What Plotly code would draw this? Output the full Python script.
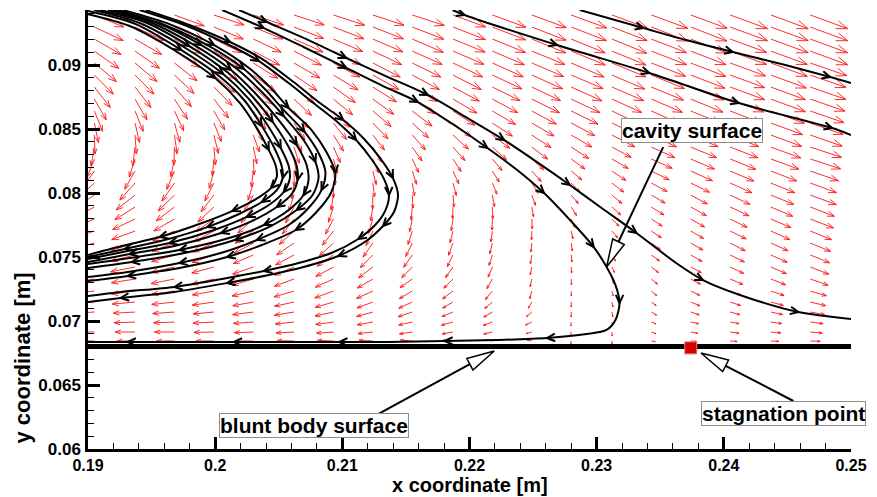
import math
import plotly.graph_objects as go

# ---------------- data (lengths in mm) ----------------
grid_x_mm = [190.5, 193.7, 196.8, 199.9, 203.0, 206.2, 209.3, 212.4, 215.5, 218.7,
             221.8, 224.9, 228.0, 231.2, 234.3, 237.4, 240.5, 243.7, 246.8]
grid_y_mm = [93.91, 92.97, 92.03, 91.09, 90.16, 89.22, 88.28, 87.34, 86.41, 85.47,
             84.53, 83.59, 82.66, 81.72, 80.78, 79.84, 78.91, 77.97, 77.03, 76.09,
             75.16, 74.22, 73.28, 72.34, 71.48, 70.70, 69.92, 69.14, 68.44]

# velocity direction (deg, 0 = +x, counter-clockwise) per grid node, rows top -> bottom
vec_angle_deg = [
    [-22, -20, -20, -18, -18, -18, -18, -18, -18, -20, -20, -20, -20, -20, -20, -20, -20, -20, -20],
    [-25, -25, -23, -22, -22, -21, -21, -21, -21, -21, -21, -21, -21, -21, -21, -21, -20, -20, -20],
    [-30, -30, -28, -26, -25, -24, -23, -23, -23, -22, -22, -22, -22, -22, -21, -21, -20, -20, -20],
    [-35, -35, -33, -30, -28, -27, -26, -25, -24, -23, -23, -22, -22, -22, -21, -21, -20, -20, -20],
    [-40, -40, -38, -35, -32, -30, -28, -27, -26, -25, -24, -23, -23, -22, -21, -21, -20, -20, -19],
    [-45, -45, -43, -40, -37, -34, -31, -29, -28, -27, -25, -24, -23, -23, -22, -21, -20, -20, -19],
    [-52, -52, -49, -45, -42, -38, -35, -32, -30, -28, -26, -25, -24, -23, -22, -21, -20, -20, -19],
    [-60, -60, -57, -52, -48, -43, -39, -36, -33, -30, -28, -26, -25, -24, -23, -22, -21, -20, -19],
    [-68, -68, -65, -60, -55, -50, -45, -40, -37, -33, -30, -28, -26, -25, -24, -22, -21, -20, -19],
    [-78, -77, -74, -68, -62, -57, -51, -46, -42, -37, -33, -30, -28, -26, -25, -23, -22, -20, -19],
    [-88, -86, -82, -76, -70, -64, -58, -52, -48, -42, -37, -33, -30, -27, -25, -23, -22, -20, -19],
    [-100, -97, -92, -85, -78, -72, -66, -60, -55, -48, -42, -37, -33, -28, -24, -22, -21, -20, -18],
    [-112, -108, -102, -95, -87, -80, -74, -68, -65, -57, -50, -42, -36, -30, -24, -23, -22, -20, -18],
    [-125, -120, -113, -105, -97, -89, -82, -76, -72, -65, -58, -48, -40, -34, -26, -24, -23, -21, -19],
    [-138, -132, -125, -117, -107, -98, -90, -83, -80, -75, -68, -58, -45, -37, -28, -26, -24, -22, -20],
    [-147, -142, -136, -128, -118, -108, -99, -91, -87, -85, -80, -70, -50, -40, -30, -28, -25, -22, -20],
    [-152, -148, -143, -137, -128, -118, -108, -99, -95, -92, -88, -80, -58, -42, -32, -29, -25, -23, -21],
    [-158, -155, -150, -145, -138, -128, -118, -107, -102, -98, -92, -87, -68, -45, -33, -30, -26, -23, -21],
    [-162, -160, -156, -152, -146, -138, -128, -115, -108, -104, -98, -92, -78, -50, -34, -30, -26, -24, -22],
    [-165, -163, -160, -157, -152, -146, -138, -125, -116, -110, -104, -96, -82, -55, -35, -30, -27, -24, -22],
    [-168, -166, -164, -161, -157, -152, -146, -135, -125, -116, -108, -99, -84, -60, -36, -30, -26, -24, -22],
    [-170, -169, -167, -165, -161, -157, -152, -143, -135, -125, -113, -101, -86, -65, -38, -28, -25, -23, -21],
    [-172, -171, -169, -167, -164, -160, -156, -150, -145, -135, -120, -102, -88, -70, -40, -27, -23, -21, -19],
    [-174, -173, -172, -170, -167, -164, -160, -156, -150, -143, -130, -105, -89, -75, -40, -25, -20, -18, -16],
    [-175, -175, -174, -172, -170, -168, -164, -160, -156, -150, -140, -120, -90, -78, -35, -22, -18, -15, -13],
    [-177, -177, -176, -175, -173, -171, -168, -165, -162, -158, -150, -140, -92, -80, -30, -18, -15, -12, -10],
    [-178, -178, -178, -177, -176, -174, -172, -170, -168, -165, -160, -155, -95, -82, -22, -12, -10, -8, -7],
    [-180, -180, -180, -179, -178, -177, -176, -174, -172, -170, -167, -165, -100, -85, -20, -10, -8, -5, -5],
    [180, 180, 180, 180, 180, 179, 178, 177, 176, 175, 172, 170, -100, -85, -10, -5, -4, -3, -2],
]

# relative speed per grid node (arbitrary units), rows top -> bottom
vec_speed = [
    [32, 32, 32, 32, 32, 32, 33, 33, 34, 35, 36, 37, 38, 38, 39, 39, 40, 40, 40],
    [32, 32, 32, 32, 32, 32, 33, 33, 34, 35, 36, 37, 38, 38, 39, 39, 40, 40, 40],
    [31, 31, 31, 31, 31, 32, 32, 33, 34, 35, 36, 37, 37, 38, 38, 39, 39, 40, 40],
    [30, 30, 30, 30, 30, 31, 31, 32, 33, 34, 35, 36, 37, 37, 38, 38, 39, 39, 40],
    [29, 29, 29, 29, 29, 30, 30, 31, 32, 33, 34, 35, 36, 37, 37, 38, 38, 39, 39],
    [27, 27, 27, 27, 28, 28, 29, 30, 31, 32, 33, 34, 35, 36, 36, 37, 37, 38, 38],
    [26, 26, 26, 26, 26, 26, 27, 28, 29, 30, 31, 32, 34, 35, 35, 36, 37, 37, 38],
    [24, 24, 24, 24, 24, 24, 25, 26, 27, 28, 29, 31, 32, 33, 34, 35, 36, 37, 37],
    [22, 22, 22, 22, 22, 22, 23, 24, 25, 26, 27, 28, 30, 31, 32, 33, 35, 36, 36],
    [20, 20, 20, 20, 20, 20, 21, 22, 22, 23, 24, 26, 27, 29, 30, 31, 33, 34, 35],
    [19, 19, 19, 19, 18, 18, 19, 19, 20, 21, 22, 23, 24, 26, 28, 30, 31, 33, 34],
    [19, 19, 18, 18, 17, 17, 17, 17, 17, 18, 19, 20, 21, 22, 26, 28, 30, 32, 33],
    [20, 19, 18, 17, 16, 15, 15, 15, 15, 15, 15, 16, 17, 19, 23, 26, 28, 30, 32],
    [22, 21, 20, 18, 16, 15, 14, 14, 14, 14, 13, 14, 14, 17, 20, 24, 26, 28, 30],
    [24, 23, 22, 20, 18, 16, 15, 14, 13, 13, 12, 12, 12, 15, 18, 21, 24, 26, 28],
    [25, 24, 23, 21, 19, 17, 15, 14, 13, 12, 12, 11, 11, 13, 16, 19, 22, 25, 28],
    [25, 24, 23, 22, 20, 18, 16, 14, 13, 12, 12, 10, 10, 12, 15, 18, 21, 24, 26],
    [25, 25, 24, 22, 21, 19, 17, 15, 13, 12, 11, 10, 9, 10, 13, 16, 19, 22, 25],
    [25, 25, 24, 23, 22, 20, 18, 16, 14, 12, 11, 9, 8, 9, 12, 15, 18, 21, 23],
    [25, 25, 24, 23, 22, 21, 19, 17, 15, 13, 11, 9, 8, 8, 11, 14, 17, 19, 22],
    [25, 25, 24, 23, 22, 21, 20, 18, 15, 13, 11, 9, 7, 7, 10, 13, 16, 18, 21],
    [25, 25, 24, 23, 22, 21, 20, 18, 15, 13, 11, 8, 6, 6, 9, 12, 15, 17, 20],
    [24, 24, 24, 23, 22, 21, 20, 18, 15, 13, 11, 8, 6, 5, 8, 11, 14, 16, 19],
    [24, 24, 23, 22, 22, 21, 20, 18, 15, 13, 11, 8, 5, 5, 7, 10, 12, 14, 17],
    [23, 23, 23, 22, 21, 20, 19, 17, 15, 12, 10, 7, 5, 5, 6, 10, 11, 13, 16],
    [22, 22, 22, 21, 21, 20, 19, 17, 15, 12, 10, 7, 5, 5, 6, 9, 10, 12, 15],
    [21, 21, 21, 21, 20, 19, 18, 16, 14, 12, 10, 7, 4, 4, 5, 8, 9, 11, 13],
    [20, 20, 20, 20, 19, 18, 17, 15, 13, 11, 9, 6, 4, 4, 5, 7, 9, 10, 12],
    [18, 18, 18, 18, 18, 17, 16, 14, 12, 10, 8, 5, 3, 3, 4, 6, 7, 8, 10],
]

# streamlines (mm) and indices of points carrying a direction arrowhead
A_x = [228.67, 233.67, 237.03, 240.70, 244.84, 248.36, 250.0]
A_y = [94.30, 92.89, 91.95, 91.02, 90.00, 89.06, 88.59]
A_arrows = [1, 3, 5]

B_x = [218.67, 219.61, 226.88, 234.14, 241.17, 248.52, 250.0]
B_y = [94.30, 93.91, 91.56, 89.38, 87.03, 85.08, 84.53]
B_arrows = [1, 2, 3, 4, 5]

D_x = [201.88, 204.06, 207.34, 210.31, 213.59, 216.72, 219.84, 222.73, 225.31, 227.89,
       230.39, 233.13, 236.25, 238.36, 241.72, 245.86, 250.0]
D_y = [94.30, 93.36, 91.95, 90.55, 89.06, 87.66, 85.86, 84.14, 82.42, 80.63,
       78.83, 76.88, 74.53, 73.20, 71.88, 70.70, 70.16]
D_arrows = [1, 3, 5, 7, 9, 11, 13, 15]

C_x = [200.55, 203.83, 206.95, 210.31, 213.20, 215.94, 218.67, 221.41, 223.75, 225.86,
       228.05, 229.77, 230.78, 231.48, 231.80, 231.48, 230.78, 229.22, 226.09, 222.19,
       218.05, 213.59, 209.77, 205.78, 201.48, 197.19, 193.13, 190.0]
C_y = [94.30, 92.89, 91.41, 89.77, 88.36, 87.11, 85.39, 83.52, 81.80, 80.00,
       77.73, 75.78, 74.22, 72.81, 71.41, 70.08, 69.30, 68.98, 68.67, 68.52,
       68.44, 68.36, 68.36, 68.36, 68.36, 68.36, 68.36, 68.36]
C_arrows = [1, 3, 5, 7, 9, 11, 14, 18, 20, 22, 24, 26]

O1_x = [194.53, 197.97, 201.17, 203.83, 206.17, 208.13, 210.08, 211.64, 212.97, 213.98,
        214.38, 214.06, 213.20, 211.88, 209.69, 206.95, 204.22, 200.94, 196.80, 192.58, 190.0]
O1_y = [94.30, 93.13, 91.80, 90.39, 88.67, 87.11, 85.70, 84.30, 82.73, 81.17,
        79.84, 78.52, 77.42, 76.25, 75.08, 74.22, 73.59, 72.97, 72.27, 71.80, 71.48]
O1_arrows = [2, 6, 9, 12, 14, 17, 19]

O2_x = [194.06, 197.58, 200.78, 203.44, 205.78, 207.73, 209.61, 211.09, 212.34, 213.28,
        213.67, 213.36, 212.58, 211.25, 209.14, 206.56, 203.83, 200.94, 196.80, 192.58, 190.0]
O2_y = [94.30, 93.13, 91.72, 90.31, 88.59, 87.03, 85.55, 84.14, 82.58, 81.09,
        79.84, 78.59, 77.50, 76.41, 75.31, 74.53, 73.91, 73.36, 72.66, 72.27, 71.95]
O2_arrows = [3, 7, 10, 13, 16, 18]

S1_x = [192.73, 196.41, 199.92, 202.66, 204.38, 205.78, 207.58, 208.75, 209.45, 209.14,
        207.97, 206.33, 203.67, 200.94, 197.19, 193.13, 190.0]
S1_y = [94.30, 93.20, 91.56, 89.77, 88.20, 86.64, 84.92, 83.20, 81.56, 80.08,
        78.52, 77.11, 75.94, 75.00, 74.14, 73.52, 73.13]
S1_arrows = [2, 5, 8, 11, 13, 15]

S2_x = [192.34, 196.02, 199.53, 202.27, 203.98, 205.39, 207.03, 208.13, 208.67, 208.36,
        207.34, 205.78, 203.28, 200.70, 197.19, 193.13, 190.0]
S2_y = [94.30, 93.13, 91.48, 89.69, 88.05, 86.48, 84.77, 83.13, 81.64, 80.23,
        78.83, 77.50, 76.33, 75.39, 74.53, 73.83, 73.44]
S2_arrows = [3, 6, 9, 12, 14]

B6_x = [191.95, 195.47, 198.91, 201.72, 203.67, 205.39, 206.95, 207.89, 208.13, 207.66,
        206.41, 204.38, 201.56, 197.58, 193.44, 190.0]
B6_y = [94.30, 93.28, 91.56, 89.69, 87.89, 86.02, 84.14, 82.42, 81.17, 79.84,
        78.67, 77.42, 76.33, 75.31, 74.61, 74.14]
B6_arrows = [2, 5, 7, 10, 12, 14]

B1_x = [191.56, 194.84, 198.36, 201.25, 203.28, 205.00, 206.41, 207.19, 207.34, 206.95,
        205.78, 203.83, 201.09, 197.19, 193.28, 190.0]
B1_y = [94.30, 93.36, 91.56, 89.61, 87.66, 85.70, 83.75, 82.19, 81.02, 79.84,
        78.67, 77.50, 76.48, 75.55, 74.92, 74.45]
B1_arrows = [3, 6, 9, 11, 13]

B2_x = [190.94, 194.45, 197.97, 200.94, 202.97, 204.53, 205.78, 206.41, 206.48, 206.02,
        204.84, 203.05, 200.47, 196.80, 193.28, 190.0]
B2_y = [94.30, 93.36, 91.48, 89.45, 87.50, 85.55, 83.59, 82.11, 81.02, 79.92,
        78.91, 77.89, 76.88, 75.86, 75.23, 74.61]
B2_arrows = [2, 5, 8, 10, 12, 14]

B3_x = [190.47, 194.06, 197.66, 200.63, 202.66, 204.06, 205.16, 205.78, 205.86, 205.39,
        204.22, 202.50, 199.92, 196.41, 193.13, 190.0]
B3_y = [94.30, 93.28, 91.33, 89.30, 87.34, 85.39, 83.52, 82.11, 81.09, 80.08,
        79.06, 78.13, 77.11, 76.09, 75.47, 74.84]
B3_arrows = [3, 6, 9, 11, 13]

B4_x = [190.0, 193.75, 197.34, 200.31, 202.34, 203.67, 204.69, 205.23, 205.31, 204.84,
        203.67, 201.88, 199.38, 196.02, 192.89, 190.0]
B4_y = [94.22, 93.20, 91.17, 89.14, 87.19, 85.23, 83.44, 82.11, 81.17, 80.23,
        79.30, 78.36, 77.34, 76.33, 75.63, 75.00]
B4_arrows = [2, 5, 8, 10, 12, 14]

B5_x = [190.0, 193.28, 197.03, 200.00, 201.95, 203.28, 204.22, 204.77, 204.84, 204.38,
        203.20, 201.33, 198.75, 195.63, 192.66, 190.0]
B5_y = [93.98, 93.05, 91.02, 88.98, 87.03, 85.08, 83.36, 82.11, 81.25, 80.39,
        79.53, 78.59, 77.58, 76.56, 75.86, 75.16]
B5_arrows = [3, 6, 9, 11, 13]

# blunt body surface and stagnation point (m)
body_x = [0.19, 0.25]
body_y = [0.068, 0.068]
stag_x = [0.2374]
stag_y = [0.0679]

# labels with leader arrows (m)
label_text = ["cavity surface", "blunt body surface", "stagnation point"]
label_x = [0.2375, 0.20781, 0.24469]
label_y = [0.08492, 0.06180, 0.06281]
leader_x0 = [0.23523, 0.21281, 0.24547]
leader_y0 = [0.08359, 0.06273, 0.06375]
leader_tip_x = [0.23078, 0.22195, 0.23820]
leader_tip_y = [0.07422, 0.06766, 0.06750]

x_ticks = [0.19, 0.20, 0.21, 0.22, 0.23, 0.24, 0.25]
x_tick_labels = ["0.19", "0.2", "0.21", "0.22", "0.23", "0.24", "0.25"]
y_ticks = [0.06, 0.065, 0.07, 0.075, 0.08, 0.085, 0.09]
y_tick_labels = ["0.06", "0.065", "0.07", "0.075", "0.08", "0.085", "0.09"]

# ---------------- drawing ----------------
MM = 1e-3
X_RANGE = [0.19, 0.25]
Y_RANGE = [0.06, 0.0943]
PX = (X_RANGE[1] - X_RANGE[0]) / 769.0     # metres per screen pixel
SPEED_SCALE = PX
FONT = "Liberation Sans, Arial, Helvetica, sans-serif"

fig = go.Figure()

# vector field
vx, vy = [], []
head_half = math.radians(20)
for i, yv in enumerate(grid_y_mm):
    for j, xv in enumerate(grid_x_mm):
        a = math.radians(vec_angle_deg[i][j])
        L = vec_speed[i][j] * SPEED_SCALE
        x0, y0 = xv * MM, yv * MM
        x1, y1 = x0 + L * math.cos(a), y0 + L * math.sin(a)
        h = 0.3 * L
        b1 = (x1 + h * math.cos(a + math.pi + head_half), y1 + h * math.sin(a + math.pi + head_half))
        b2 = (x1 + h * math.cos(a + math.pi - head_half), y1 + h * math.sin(a + math.pi - head_half))
        vx += [x0, x1, b1[0], None, x1, b2[0], None]
        vy += [y0, y1, b1[1], None, y1, b2[1], None]
fig.add_trace(go.Scatter(x=vx, y=vy, mode="lines",
                         line=dict(color="rgb(255,20,20)", width=0.9),
                         hoverinfo="skip"))

# streamlines
streams = [
    (A_x, A_y, A_arrows), (B_x, B_y, B_arrows), (D_x, D_y, D_arrows), (C_x, C_y, C_arrows),
    (O1_x, O1_y, O1_arrows), (O2_x, O2_y, O2_arrows), (S1_x, S1_y, S1_arrows),
    (S2_x, S2_y, S2_arrows), (B6_x, B6_y, B6_arrows), (B1_x, B1_y, B1_arrows),
    (B2_x, B2_y, B2_arrows), (B3_x, B3_y, B3_arrows), (B4_x, B4_y, B4_arrows),
    (B5_x, B5_y, B5_arrows),
]
bx, by = [], []
s_head = 9 * PX
s_half = math.radians(25)
for xs, ys, arr in streams:
    X = [v * MM for v in xs]
    Y = [v * MM for v in ys]
    fig.add_trace(go.Scatter(x=X, y=Y, mode="lines",
                             line=dict(color="black", width=2, shape="spline", smoothing=0.8),
                             hoverinfo="skip"))
    for k in arr:
        ang = math.atan2(Y[k + 1] - Y[k - 1], X[k + 1] - X[k - 1])
        xh, yh = X[k], Y[k]
        p1 = (xh + s_head * math.cos(ang + math.pi + s_half), yh + s_head * math.sin(ang + math.pi + s_half))
        p2 = (xh + s_head * math.cos(ang + math.pi - s_half), yh + s_head * math.sin(ang + math.pi - s_half))
        bx += [p1[0], xh, p2[0], None]
        by += [p1[1], yh, p2[1], None]
fig.add_trace(go.Scatter(x=bx, y=by, mode="lines", line=dict(color="black", width=2),
                         hoverinfo="skip"))

# body surface and stagnation point
fig.add_trace(go.Scatter(x=body_x, y=body_y, mode="lines",
                         line=dict(color="black", width=5), hoverinfo="skip"))
fig.add_trace(go.Scatter(x=stag_x, y=stag_y, mode="markers",
                         marker=dict(symbol="square", size=12, color="rgb(210,0,0)",
                                     line=dict(color="rgb(240,120,120)", width=1)),
                         hoverinfo="skip"))

# leader lines with hollow arrowheads
tri_len = 28 * PX
tri_half_w = 6.5 * PX
for x0, y0, xt, yt in zip(leader_x0, leader_y0, leader_tip_x, leader_tip_y):
    dx, dy = x0 - xt, y0 - yt
    n = math.hypot(dx, dy)
    ux, uy = dx / n, dy / n
    bcx, bcy = xt + ux * tri_len, yt + uy * tri_len
    fig.add_trace(go.Scatter(x=[x0, bcx], y=[y0, bcy], mode="lines",
                             line=dict(color="black", width=2), hoverinfo="skip"))
    fig.add_trace(go.Scatter(
        x=[xt, bcx - uy * tri_half_w, bcx + uy * tri_half_w, xt],
        y=[yt, bcy + ux * tri_half_w, bcy - ux * tri_half_w, yt],
        mode="lines", fill="toself", fillcolor="white",
        line=dict(color="black", width=1.5), hoverinfo="skip"))

annotations = []
for t, x, y in zip(label_text, label_x, label_y):
    annotations.append(dict(x=x, y=y, xref="x", yref="y", text=t, showarrow=False,
                            bgcolor="white", bordercolor="#8c8c8c", borderwidth=1, borderpad=0,
                            font=dict(family=FONT, size=21, color="black", weight="bold"),
                            xanchor="center", yanchor="middle"))
annotations.append(dict(x=0.5007, y=-0.0831, xref="paper", yref="paper",
                        text="x coordinate [m]", showarrow=False, borderpad=0,
                        font=dict(family=FONT, size=20, color="black", weight="bold"),
                        xanchor="center", yanchor="middle"))
annotations.append(dict(x=-0.086, y=0.207, xref="paper", yref="paper",
                        text="y coordinate [m]", showarrow=False, textangle=-90,
                        font=dict(family=FONT, size=22, color="black", weight="bold"),
                        xanchor="center", yanchor="middle"))

fig.update_layout(
    width=877, height=497, autosize=False,
    margin=dict(l=88, r=20, t=10, b=48),
    paper_bgcolor="white", plot_bgcolor="white",
    showlegend=False, hovermode=False,
    annotations=annotations,
)
fig.update_xaxes(range=X_RANGE, tickmode="array", tickvals=x_ticks, ticktext=x_tick_labels,
                 ticks="inside", ticklen=12, tickwidth=2.5, tickcolor="black",
                 showline=True, linewidth=2.5, linecolor="black",
                 showgrid=False, zeroline=False,
                 tickfont=dict(family=FONT, size=16, color="black", weight="bold"),
                 minor=dict(ticks="inside", ticklen=6, tickwidth=1.2, tickcolor="black",
                            tick0=0.19, dtick=0.002, showgrid=False))
fig.update_yaxes(range=Y_RANGE, tickmode="array", tickvals=y_ticks, ticktext=y_tick_labels,
                 ticks="inside", ticklen=12, tickwidth=2.5, tickcolor="black",
                 showline=True, linewidth=2.5, linecolor="black",
                 showgrid=False, zeroline=False,
                 tickfont=dict(family=FONT, size=17, color="black", weight="bold"),
                 ticklabelstandoff=1,
                 minor=dict(ticks="inside", ticklen=6, tickwidth=1.2, tickcolor="black",
                            tick0=0.06, dtick=0.001, showgrid=False))

fig.write_html("out.html", config={"displayModeBar": False},
               post_script="document.body.style.margin='0';")
